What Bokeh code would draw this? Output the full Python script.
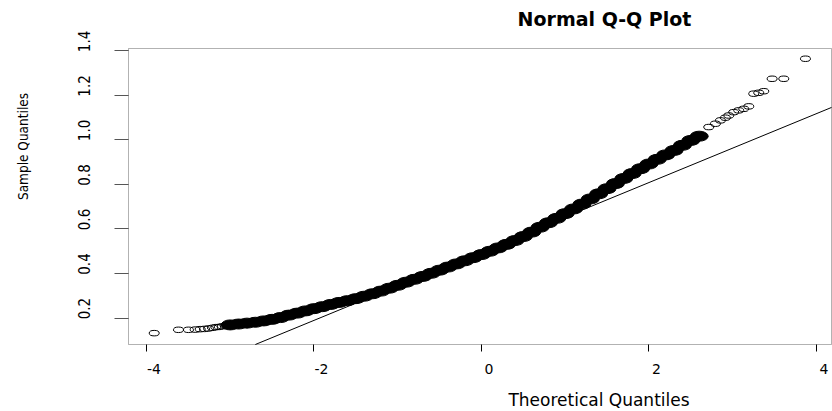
import math
from bokeh.plotting import figure
from bokeh.models import (Range1d, LinearAxis, FixedTicker, Label,
                          BoxAnnotation, PrintfTickFormatter)
from bokeh.embed import file_html
from bokeh.resources import INLINE

# ---------------- data ----------------
title_text = "Normal Q-Q Plot"
x_title = "Theoretical Quantiles"
y_title = "Sample Quantiles"

x_ticks = [-4, -2, 0, 2, 4]
y_ticks = [0.2, 0.4, 0.6, 0.8, 1.0, 1.2, 1.4]

# sparse lower tail (individual circles)
theo_left = [-3.908, -3.618, -3.499, -3.419, -3.359, -3.307, -3.260, -3.212, -3.172, -3.132, -3.093, -3.060]
samp_left = [0.132, 0.147, 0.147, 0.148, 0.150, 0.151, 0.153, 0.156, 0.159, 0.160, 0.163, 0.165]

# dense, overplotted middle part
theo_band = [-3.0, -2.9, -2.8, -2.7, -2.6, -2.5, -2.4, -2.3, -2.2, -2.1,
             -2.0, -1.9, -1.8, -1.7, -1.6, -1.5, -1.4, -1.3, -1.2, -1.1,
             -1.0, -0.9, -0.8, -0.7, -0.6, -0.5, -0.4, -0.3, -0.2, -0.1,
             0.0, 0.1, 0.2, 0.3, 0.4, 0.5, 0.6, 0.7, 0.8, 0.9,
             1.0, 1.1, 1.2, 1.3, 1.4, 1.5, 1.6, 1.7, 1.8, 1.9,
             2.0, 2.1, 2.2, 2.3, 2.4, 2.5, 2.6]
samp_band = [0.169, 0.173, 0.177, 0.181, 0.187, 0.194, 0.202, 0.213, 0.222, 0.232,
             0.242, 0.251, 0.261, 0.270, 0.278, 0.287, 0.298, 0.309, 0.321, 0.334,
             0.347, 0.361, 0.374, 0.387, 0.401, 0.415, 0.429, 0.443, 0.457, 0.471,
             0.485, 0.500, 0.515, 0.531, 0.548, 0.566, 0.586, 0.608, 0.628, 0.648,
             0.669, 0.690, 0.712, 0.735, 0.758, 0.781, 0.804, 0.827, 0.849, 0.871,
             0.892, 0.913, 0.933, 0.953, 0.976, 0.998, 1.017]

# sparse upper tail (individual circles)
theo_right = [2.714, 2.794, 2.854, 2.913, 2.953, 3.012, 3.072, 3.132, 3.192, 3.251, 3.311, 3.371, 3.471, 3.610, 3.869]
samp_right = [1.058, 1.073, 1.088, 1.100, 1.110, 1.125, 1.133, 1.140, 1.151, 1.208, 1.212, 1.219, 1.275, 1.275, 1.365]

# reference line (qqline)
qq_intercept = 0.499
qq_slope = 0.1548

# ---------------- layout ----------------
W, H = 832, 411
BL, BR, BT, BB = 128, 831, 48, 344      # plot box in pixels
X0, X1 = -4.215, 4.18                   # data limits of the box
Y0, Y1 = 0.081, 1.411
sx = (BR - BL) / (X1 - X0)
sy = (BB - BT) / (Y1 - Y0)
xs, xe = X0 - BL / sx, X1 + (W - BR) / sx
ys, ye = Y0 - (H - BB) / sy, Y1 + BT / sy


def px2x(px):
    return xs + px / sx


def py2y(py):
    return ye - py / sy


p = figure(width=W, height=H, x_range=Range1d(xs, xe), y_range=Range1d(ys, ye),
           output_backend="svg", toolbar_location=None,
           x_axis_type=None, y_axis_type=None,
           min_border_left=0, min_border_right=0, min_border_top=0, min_border_bottom=0)
p.background_fill_color = "white"
p.border_fill_color = "white"
p.outline_line_color = None
p.grid.visible = False

# plot box
p.add_layout(BoxAnnotation(left=X0, right=X1, bottom=Y0, top=Y1, fill_color=None,
                           line_color="black", line_width=1))

# x axis on the box's lower edge; labels sit a little right of their ticks
dx = 7.5 / sx
p.extra_x_ranges = {"xlab": Range1d(xs - dx, xe - dx)}
xaxis = LinearAxis(x_range_name="xlab", fixed_location=Y0,
                   ticker=FixedTicker(ticks=x_ticks, minor_ticks=[t - dx for t in x_ticks]),
                   formatter=PrintfTickFormatter(format="%d"),
                   axis_line_color=None, major_tick_line_color=None,
                   major_tick_out=0, major_tick_in=0,
                   minor_tick_out=7, minor_tick_in=0, minor_tick_line_color="black",
                   major_label_standoff=12,
                   major_label_text_font="DejaVu Sans",
                   major_label_text_font_size="14px",
                   major_label_text_color="black")
p.add_layout(xaxis, "below")

# y axis on the box's left edge; labels sit a little above their ticks
cond = "'DejaVu Sans Condensed', 'DejaVu Sans', sans-serif"
dy = 9.5 / sy
p.extra_y_ranges = {"ylab": Range1d(ys - dy, ye - dy)}
yaxis = LinearAxis(y_range_name="ylab", fixed_location=X0,
                   ticker=FixedTicker(ticks=y_ticks, minor_ticks=[t - dy for t in y_ticks]),
                   formatter=PrintfTickFormatter(format="%.1f"),
                   axis_line_color=None, major_tick_line_color=None,
                   major_tick_out=0, major_tick_in=0,
                   minor_tick_out=14, minor_tick_in=0, minor_tick_line_color="#555555",
                   major_label_orientation="vertical", major_label_standoff=24,
                   major_label_text_font=cond, major_label_text_font_size="15px",
                   major_label_text_color="black")
p.add_layout(yaxis, "left")

# titles (label anchors sit ~6 px above/left of the drawn baseline)
p.add_layout(Label(x=px2x(604), y=py2y(18), text=title_text, text_align="center",
                   text_baseline="alphabetic", text_font="DejaVu Sans",
                   text_font_style="bold", text_font_size="19px", text_color="black"))
p.add_layout(Label(x=px2x(598.5), y=py2y(399), text=x_title, text_align="center",
                   text_baseline="alphabetic", text_font="DejaVu Sans",
                   text_font_size="17px", text_color="black"))
p.add_layout(Label(x=px2x(22.5), y=py2y(146), text=y_title, angle=math.pi / 2,
                   text_align="center", text_baseline="alphabetic",
                   text_font=cond, text_font_size="13.5px", text_color="black"))

# qqline, limited to the plot box
xa = max(X0, (Y0 - qq_intercept) / qq_slope)
xb = min(X1, (Y1 - qq_intercept) / qq_slope)
p.segment(x0=[xa], y0=[qq_intercept + qq_slope * xa],
          x1=[xb], y1=[qq_intercept + qq_slope * xb],
          line_color="black", line_width=1)

# points
p.ellipse(x=theo_band, y=samp_band, width=18, height=10,
          width_units="screen", height_units="screen",
          fill_color="black", line_color="black", line_width=1)
p.ellipse(x=theo_left, y=samp_left, width=10, height=5.5,
          width_units="screen", height_units="screen",
          fill_color=None, line_color="black", line_width=1)
p.ellipse(x=theo_right, y=samp_right, width=10, height=5.5,
          width_units="screen", height_units="screen",
          fill_color=None, line_color="black", line_width=1)

open("out.html", "w").write(file_html(p, INLINE))
